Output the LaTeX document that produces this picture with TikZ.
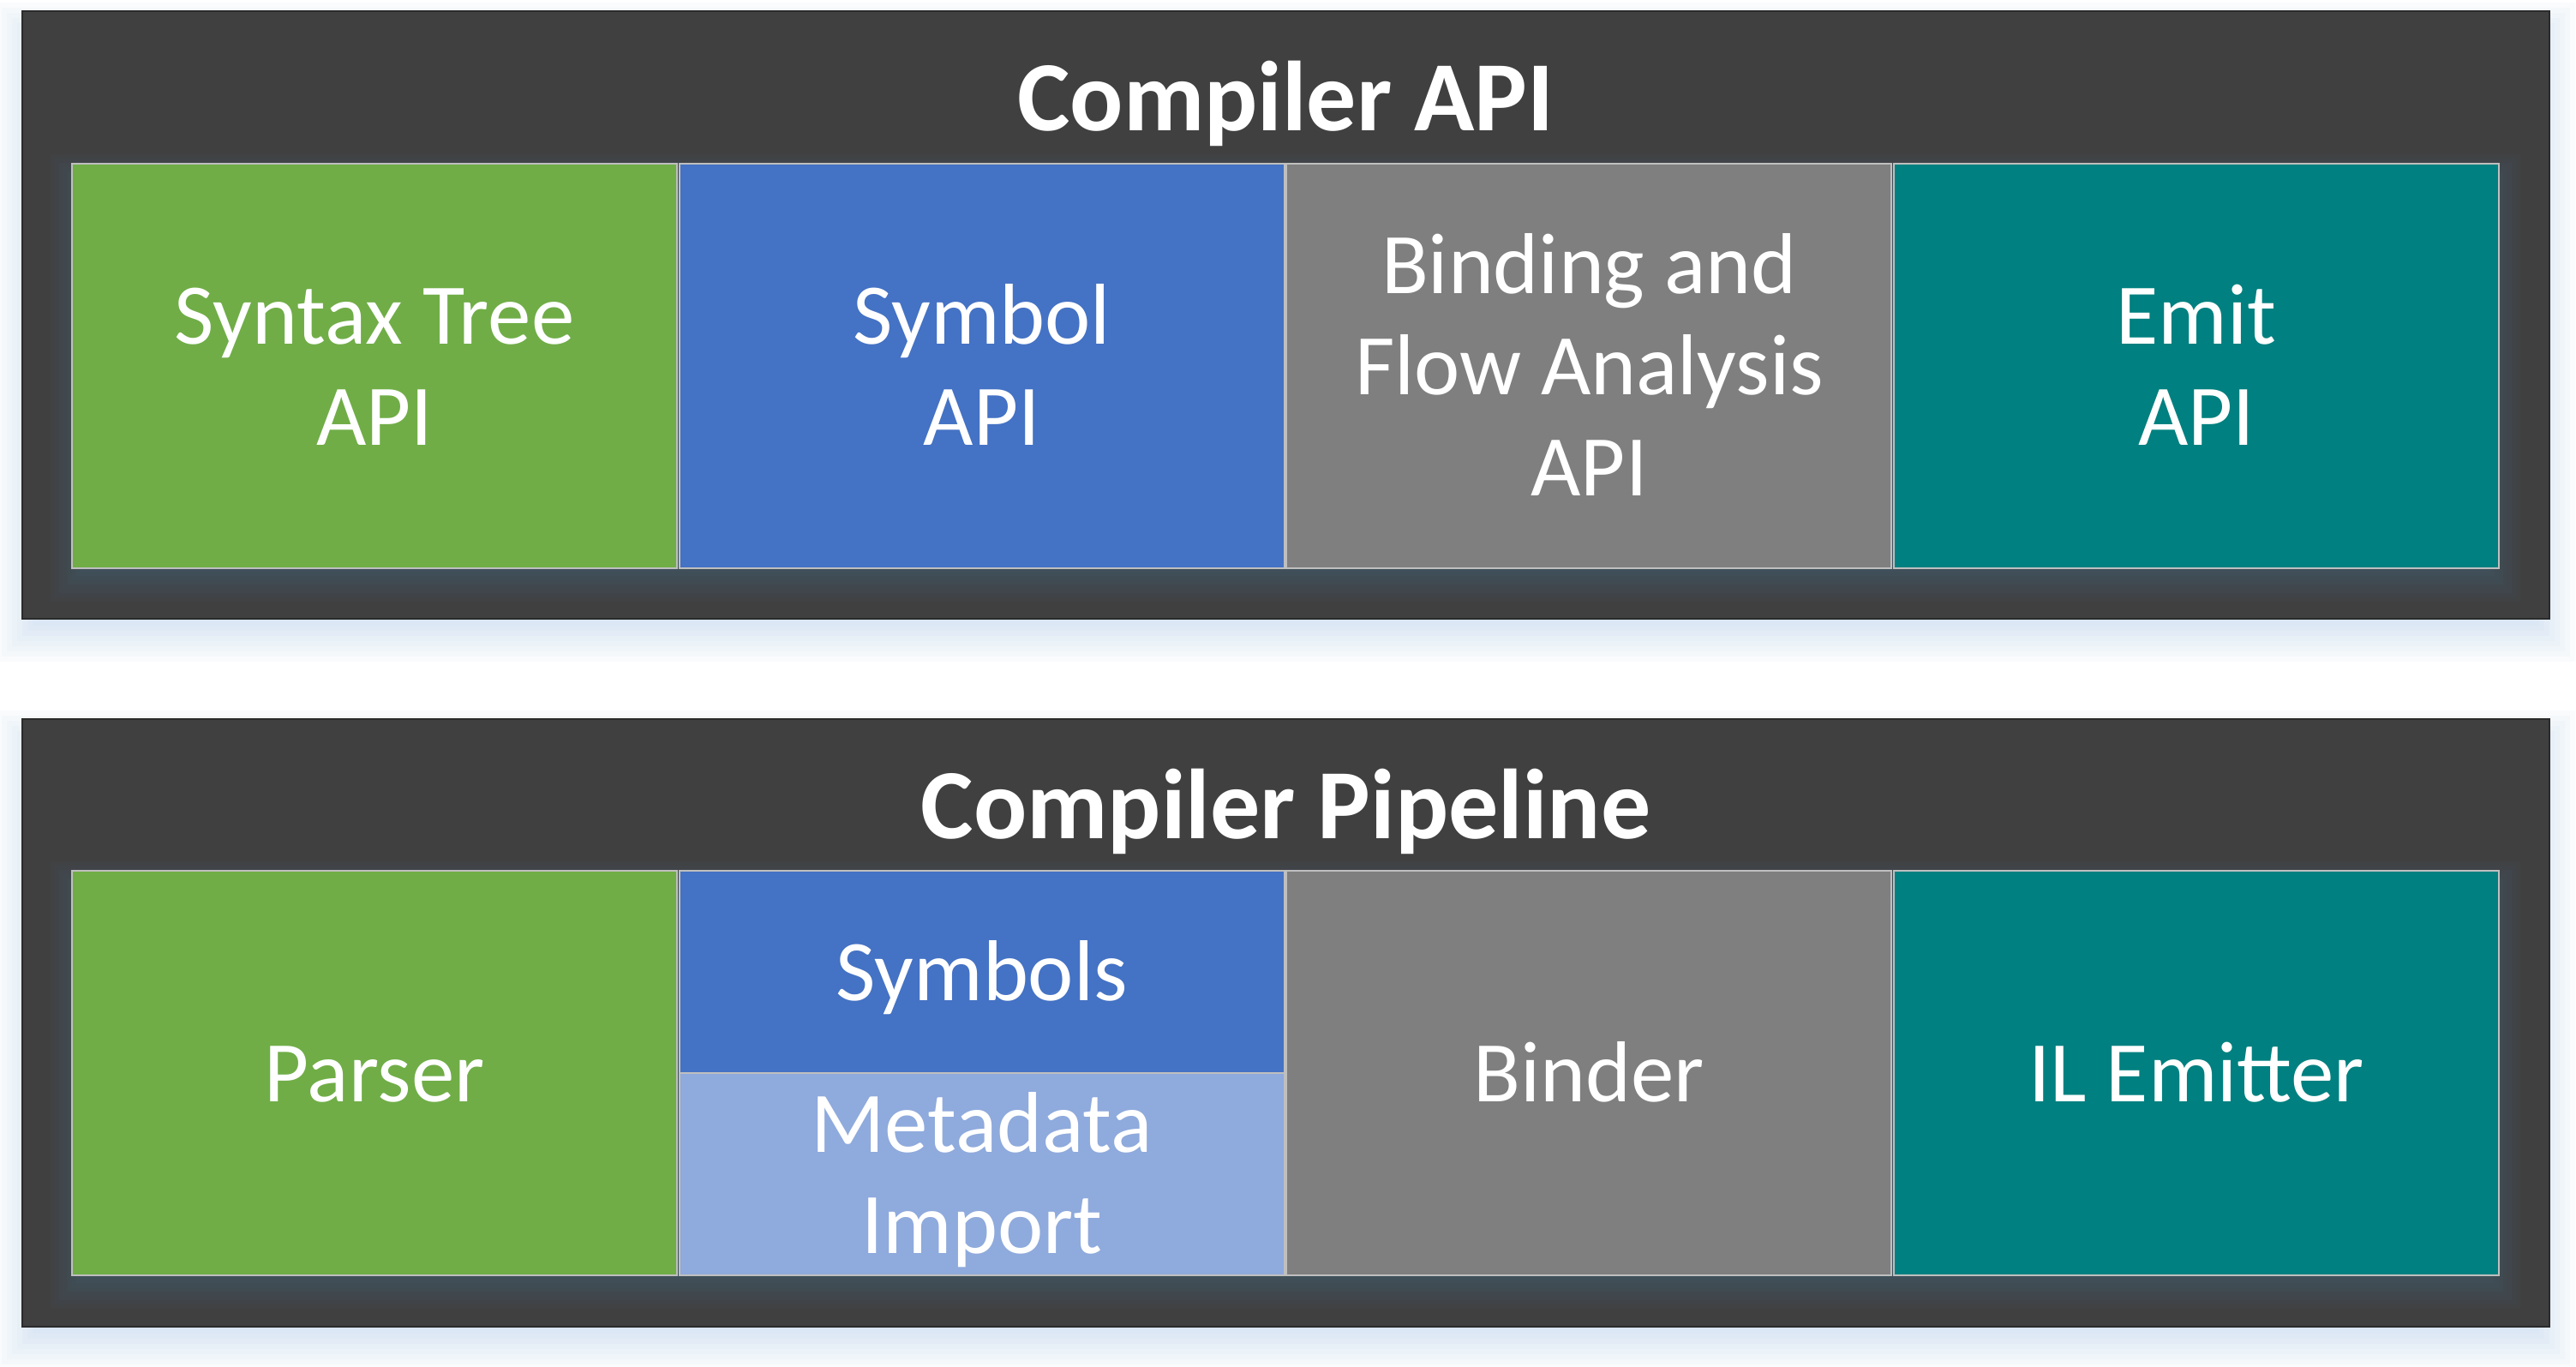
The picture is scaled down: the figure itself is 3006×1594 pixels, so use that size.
\documentclass[tikz,border=0pt]{standalone}
\usepackage{fontspec}
\setmainfont{Carlito}

\definecolor{panelgray}{HTML}{404040}
\definecolor{paneledge}{HTML}{2B2B2B}
\definecolor{blockedge}{HTML}{BFBFBF}
\definecolor{syntaxgreen}{HTML}{70AD47}
\definecolor{symbolblue}{HTML}{4472C4}
\definecolor{metablue}{HTML}{8FAADC}
\definecolor{bindgray}{HTML}{7F7F7F}
\definecolor{emitteal}{HTML}{008080}
\definecolor{glowblue}{HTML}{9DC3E6}
\definecolor{rowshade}{RGB}{84,127,161}

\newcommand{\lstrut}{\rule[-2.6mm]{0pt}{11.8mm}}

\tikzset{
  panel/.style={fill=panelgray, draw=paneledge, line width=0.2mm, minimum width=294.9mm, minimum height=70.9mm, inner sep=0pt, outer sep=0pt},
  paneltitle/.style={text=white, font=\fontsize{33pt}{39pt}\selectfont\bfseries, inner sep=0pt, anchor=base},
  block/.style={draw=blockedge, line width=0.2mm, text=white, font=\fontsize{28.7pt}{11.8mm}\selectfont, minimum width=70.6mm, minimum height=47.2mm, inner sep=0pt, outer sep=0pt, align=center},
  halfblock/.style={block, minimum height=23.6mm},
}

\begin{document}
\begin{tikzpicture}[x=0.1mm,y=-0.1mm]

\useasboundingbox (0,0) rectangle (3006,1594);
\fill[white] (0,0) rectangle (3006,1594);

\foreach \y in {13,839} % halo sous les deux cadres
{
	\foreach \k in {0,...,11}
		\fill[glowblue, opacity=0.05] ({62-6*\k},{\y+56-6*\k}) rectangle ({2939+6*\k},{\y+693+6*\k});
}

\node[panel] (apipanel) at (1500.5,367.5) {};
\node[panel] (pipepanel) at (1500.5,1193) {};

\foreach \t in {191,1016} % ombre sous les rangees de blocs
{
	\foreach \k in {0,...,10}
		\fill[rowshade, opacity=0.045] ({109-5*\k},{\t+39-5*\k}) rectangle ({2891+5*\k},{\t+461+5*\k});
}

\node[paneltitle] (apititle) at (1500.5,152) {Compiler API};
\node[paneltitle] (pipetitle) at (1500.5,978) {Compiler Pipeline};

\node[block, fill=syntaxgreen] (syntaxapi) at (437,427) {\lstrut Syntax Tree\\\lstrut API};
\node[block, fill=symbolblue] (symbolapi) at (1145.7,427) {\lstrut Symbol\\\lstrut API};
\node[block, fill=bindgray] (bindapi) at (1854.4,427) {\lstrut Binding and\\\lstrut Flow Analysis\\\lstrut API};
\node[block, fill=emitteal] (emitapi) at (2563.1,427) {\lstrut Emit\\\lstrut API};

\node[block, fill=syntaxgreen] (parser) at (437,1252) {\lstrut Parser};
\node[halfblock, fill=symbolblue] (symbols) at (1145.7,1134) {\lstrut Symbols};
\node[halfblock, fill=metablue] (metadata) at (1145.7,1370) {\lstrut Metadata\\\lstrut Import};
\node[block, fill=bindgray] (binder) at (1854.4,1252) {\lstrut Binder};
\node[block, fill=emitteal] (emitter) at (2563.1,1252) {\lstrut IL Emitter};

\end{tikzpicture}
\end{document}
